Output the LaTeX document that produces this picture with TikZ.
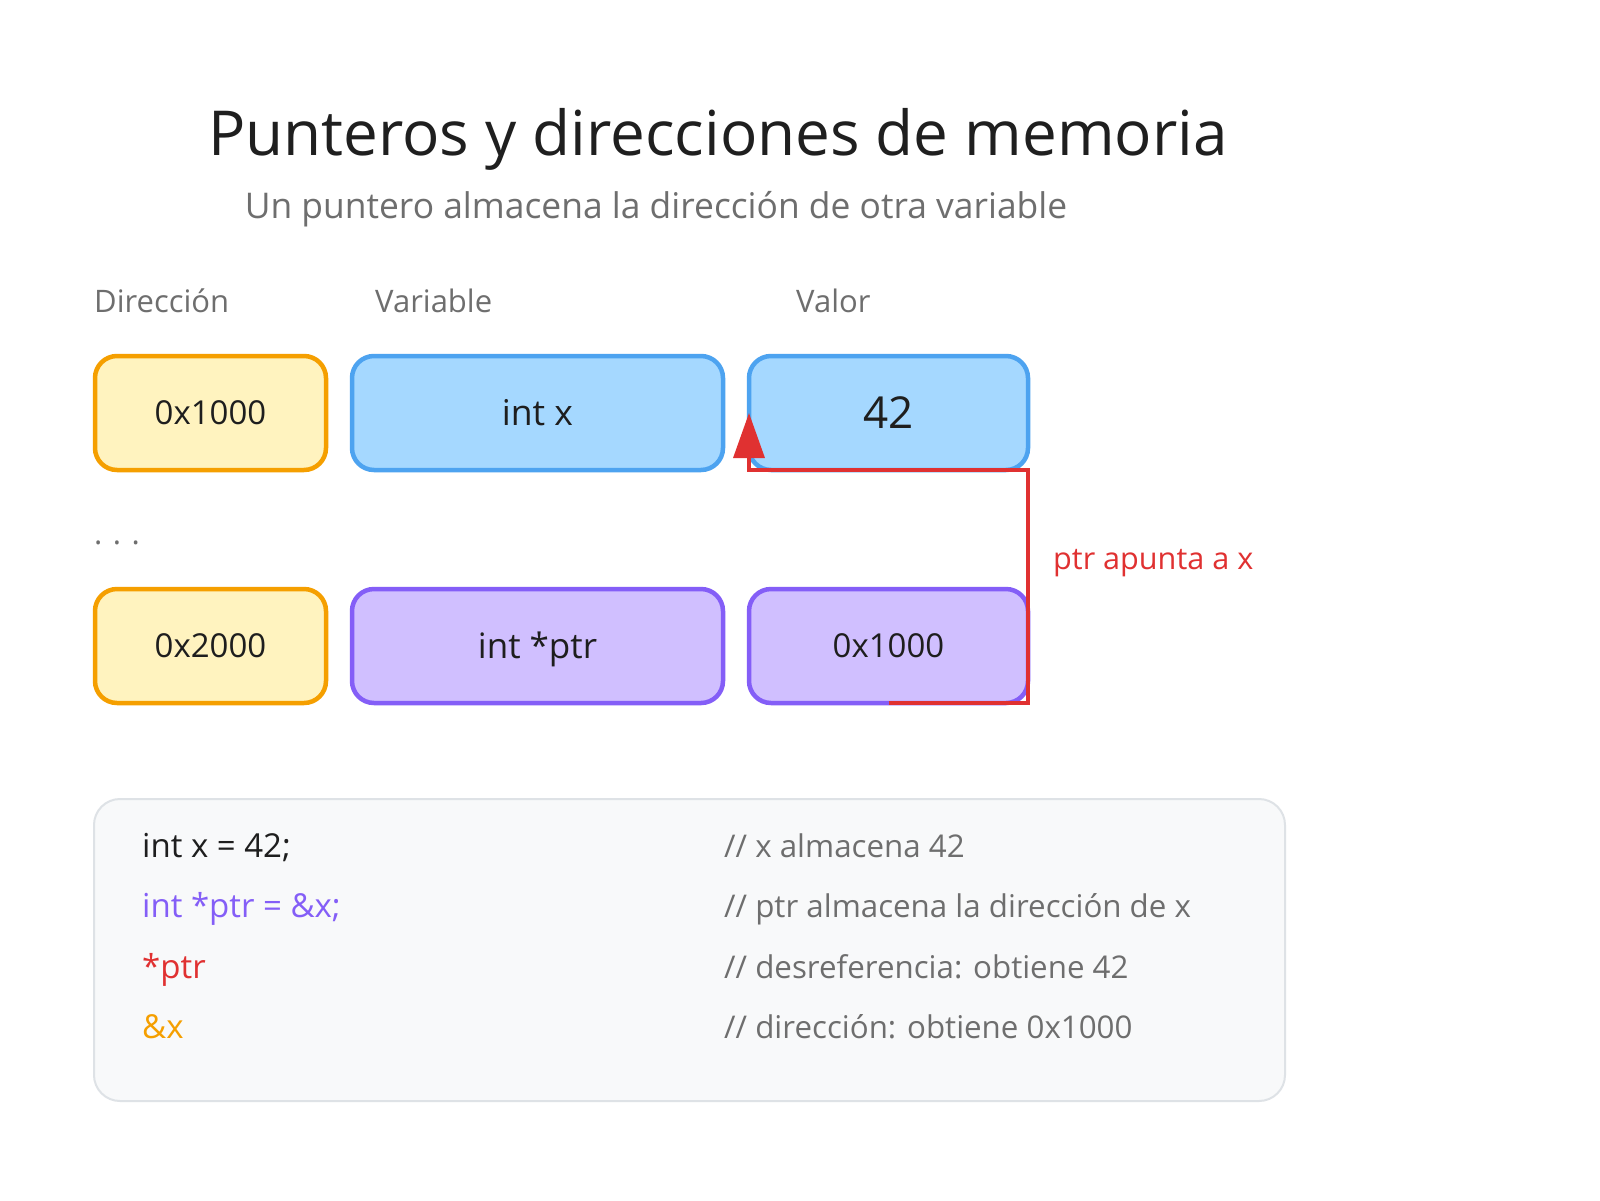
\documentclass[tikz,border=0pt]{standalone}
\usepackage{fontspec}
\setmainfont{Open Sans}
\usetikzlibrary{arrows.meta}
\definecolor{ttl}{HTML}{1F1F1F}
\definecolor{gry}{HTML}{6E6E6E}
\definecolor{orS}{HTML}{F59F00}
\definecolor{orF}{HTML}{FFF3BF}
\definecolor{blS}{HTML}{4DA3F0}
\definecolor{blF}{HTML}{A5D8FF}
\definecolor{puS}{HTML}{845EF7}
\definecolor{puF}{HTML}{D0BFFF}
\definecolor{rd}{HTML}{E03131}
\definecolor{cbF}{HTML}{F8F9FA}
\definecolor{cbS}{HTML}{DEE2E6}
\definecolor{txt}{HTML}{1E1E1E}
\begin{document}
\begin{tikzpicture}[x=1pt,y=-1pt,
  cell/.style={draw, line width=4.5pt, rounded corners=22pt, inner sep=0pt, outer sep=0pt,
    minimum height=114pt, text=txt, text height=23.6pt, text depth=0pt,
    font=\fontsize{33}{39}\selectfont},
  addr/.style={cell, draw=orS, fill=orF, minimum width=231pt},
  varb/.style={cell, draw=blS, fill=blF, minimum width=371pt},
  valb/.style={cell, draw=blS, fill=blF, minimum width=279pt},
  varp/.style={cell, draw=puS, fill=puF, minimum width=371pt},
  valp/.style={cell, draw=puS, fill=puF, minimum width=279pt},
  hdr/.style={anchor=base west, inner sep=0pt, text=gry, font=\fontsize{31}{37}\selectfont},
  codetxt/.style={anchor=base west, inner sep=0pt, font=\fontsize{33}{39}\selectfont},
  cmt/.style={anchor=base west, inner sep=0pt, text=gry, font=\fontsize{31.3}{37}\selectfont},
  ptrline/.style={draw=rd, line width=3.5pt, -{Triangle[length=45pt,width=31pt]}}
]
\useasboundingbox[fill=white] (0,0) rectangle (1600,1200);

% title
\node[anchor=base, inner sep=0pt, text=ttl, font=\fontsize{62}{72}\selectfont] (title) at (718,155) {Punteros y direcciones de memoria};
\node[anchor=base, inner sep=0pt, text=gry, font=\fontsize{35.4}{42}\selectfont] (sub) at (656,218) {Un puntero almacena la dirección de otra variable};

% headers
\node[hdr] (h1) at (94,312) {Dirección};
\node[hdr] (h2) at (375,312) {Variable};
\node[hdr] (h3) at (796,312) {Valor};

% row 1
\node[addr] (a1) at (210.5,413) {0x1000};
\node[varb, text height=25.3pt, font=\fontsize{35.5}{42}\selectfont] (v1n) at (537.5,413) {int x};
\node[valb, text height=31.4pt, font=\fontsize{44}{52}\selectfont] (v1) at (888.5,413) {42};

% dots
\node[hdr, text=gry] (dots) at (94,544) {.\hspace{10.5pt}.\hspace{10.5pt}.};

% row 2
\node[addr] (a2) at (210.5,646) {0x2000};
\node[varp, text height=25pt, font=\fontsize{35}{42}\selectfont] (v2n) at (537.5,646) {int *ptr};
\node[valp] (v2) at (888.5,646) {0x1000};

% pointer arrow
\draw[ptrline] (v2.south) -- (v2.south -| v1.east) -- (v1.south east) -- (v1.south west) -- (v1.west);
\node[anchor=base west, inner sep=0pt, text=rd, font=\fontsize{30.6}{36}\selectfont] (lab) at (1053,569) {ptr apunta a x};

% code box
\node[draw=cbS, fill=cbF, line width=2pt, rounded corners=26pt, inner sep=0pt, outer sep=0pt,
  minimum width=1191pt, minimum height=302pt] (cb) at (689.5,950) {};
\node[codetxt, text=txt] (c1) at (142,857) {int x = 42;};
\node[codetxt, text=puS] (c2) at (142,917) {int *ptr = \&x;};
\node[codetxt, text=rd] (c3) at (142,978) {*ptr};
\node[codetxt, text=orS] (c4) at (142,1038) {\&x};
\node[cmt] (k1) at (724,857) {// x almacena 42};
\node[cmt] (k2) at (724,917) {// ptr almacena la dirección de x};
\node[cmt] (k3) at (724,978) {// desreferencia: obtiene 42};
\node[cmt] (k4) at (724,1038) {// dirección: obtiene 0x1000};
\end{tikzpicture}
\end{document}
